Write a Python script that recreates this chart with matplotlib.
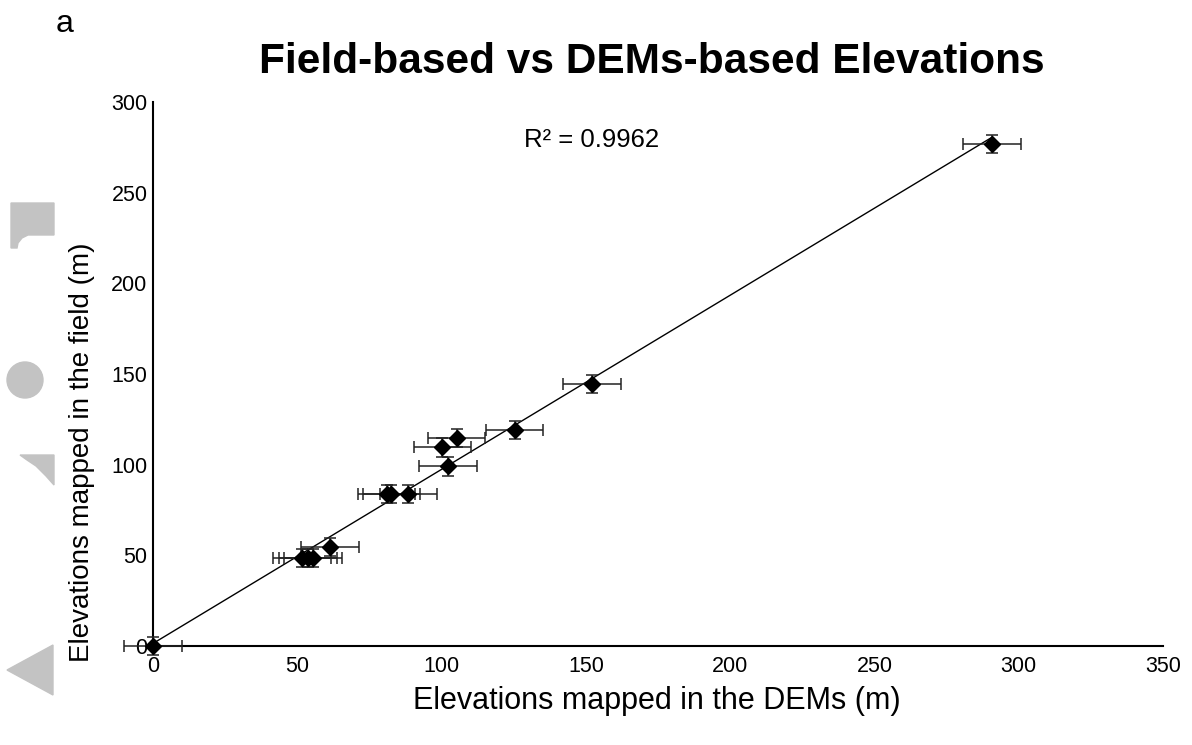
import matplotlib.pyplot as plt
import numpy as np
from matplotlib.patches import Polygon, Circle

plt.rcParams['font.family'] = ['Liberation Sans', 'DejaVu Sans']

# elevations
dem_elev = [0, 51.6, 53.6, 55.4, 61.2, 80.9, 82.6, 88.5, 102.1, 100.3, 105.2, 125.3, 152.2, 290.7]
field_elev = [0, 48.5, 48.5, 48.5, 54.5, 84, 84, 84, 99, 109.5, 114.5, 119, 144.7, 277]
dem_err = [10] * len(dem_elev)
field_err = [5] * len(field_elev)
r_squared = 0.9962

fig = plt.figure(figsize=(11.92, 7.45), dpi=100)
ax = fig.add_axes([0.1284, 0.1329, 0.8473, 0.7301])

ax.errorbar(dem_elev, field_elev, xerr=dem_err, yerr=field_err, fmt='D', color='black',
            ecolor='#222222', elinewidth=1.1, capsize=4, capthick=1.1, markersize=8,
            clip_on=False, zorder=3)

# linear trendline
slope, intercept = np.polyfit(dem_elev, field_elev, 1)
xs = np.array([0, max(dem_elev)])
ax.plot(xs, slope * xs + intercept, color='black', linewidth=1, zorder=2, clip_on=False)

ax.text(0.434, 0.93, f"R² = {r_squared:.4f}", transform=ax.transAxes, fontsize=18.5,
        ha='center', va='center')

ax.set_xlim(0, 350)
ax.set_ylim(0, 300)
ax.set_xticks(range(0, 351, 50))
ax.set_yticks(range(0, 301, 50))
ax.tick_params(length=0, labelsize=15.5)
ax.tick_params(axis='x', pad=7)
ax.tick_params(axis='y', pad=4)
for s in ['top', 'right']:
    ax.spines[s].set_visible(False)
for s in ['left', 'bottom']:
    ax.spines[s].set_linewidth(1.5)

ax.set_xlabel("Elevations mapped in the DEMs (m)", fontsize=22)
ax.set_ylabel("Elevations mapped in the field (m)", fontsize=20)
ax.xaxis.set_label_coords(0.499, -0.073)
ax.yaxis.set_label_coords(-0.057, 0.357)

fig.text(0.547, 0.917, "Field-based vs DEMs-based Elevations", fontsize=30.5, fontweight='bold',
         ha='center', va='center')
fig.text(0.054, 0.968, "a", fontsize=23, ha='center', va='center')

# grey watermark shapes on the left edge
grey = '#c3c3c3'
W, H = 1192.0, 745.0
def fc(px, py):
    return (px / W, 1 - py / H)

fig.patches.append(Polygon([fc(11, 203), fc(54, 203), fc(54, 235), fc(28, 235), fc(22, 238),
                            fc(18, 243), fc(17, 248), fc(11, 248)], closed=True,
                           transform=fig.transFigure, color=grey))
fig.patches.append(Circle((25 / 100.0, (H - 380) / 100.0), 0.18,
                          transform=fig.dpi_scale_trans, color=grey))
fig.patches.append(Polygon([fc(20, 455), fc(54, 455), fc(54, 485), fc(46, 476), fc(36, 466),
                            fc(27, 460)], closed=True,
                           transform=fig.transFigure, color=grey))
fig.patches.append(Polygon([fc(7, 670), fc(53, 645), fc(53, 695)], closed=True,
                           transform=fig.transFigure, color=grey))

fig.savefig("out.png", dpi=100)
plt.close(fig)
